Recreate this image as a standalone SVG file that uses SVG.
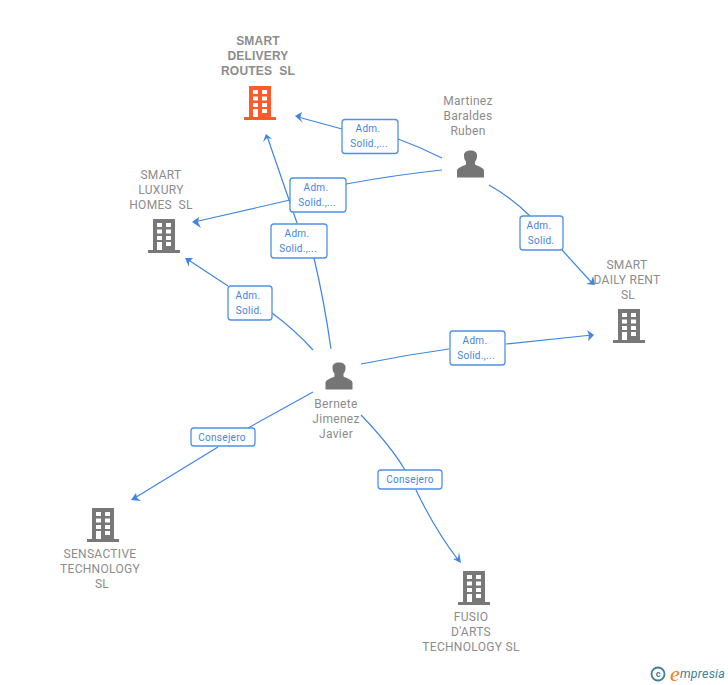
<svg xmlns="http://www.w3.org/2000/svg" width="728" height="685" viewBox="0 0 728 685">
<style>
text{font-family:"Roboto","Liberation Sans",Arial,sans-serif;white-space:pre}
.n{font-size:12px;fill:#8c8c8c;text-anchor:middle;letter-spacing:.3px}
.b{font-weight:bold;font-family:"Liberation Sans",Arial,sans-serif;letter-spacing:.2px}
.l{font-size:10px;fill:#3f86e0;text-anchor:middle;letter-spacing:.3px}
.box{fill:#fff;stroke:#4f90e6;stroke-width:1.3}
.c{fill:none;stroke:#3f86e0;stroke-width:1.2}
.a{fill:#3f86e0}
</style>
<defs>
<path id="bld" fill-rule="evenodd" d="M-11-17H11V14H16V17H-16V14H-11ZM-7-13V-9H-2V-13ZM2-13V-9H7V-13ZM-7-6.500V-2.500H-2V-6.500ZM2-6.500V-2.500H7V-6.500ZM-7 0V4H-2V0ZM2 0V4H7V0ZM-7 6V14H-2V6ZM2 6V10H7V6Z"/>
<path id="per" d="M-13.500 13.500V7C-13.500 3.500-8 2.500-4.500 .5V-2.500C-6.500-4.500-6.500-7-6.500-9C-6.500-11.500-4-13.500 0-13.500C4-13.500 6.500-11.500 6.500-9C6.500-7 6.500-4.500 4.500-2.500V.5C8 2.500 13.500 3.500 13.500 7V13.500Z"/>
</defs>
<rect width="728" height="685" fill="#fff"/>
<g id="connectors">
<path class="c" d="M442 158Q420 147 398 139"/><path class="c" d="M342 129L298 117"/><path class="a" d="M295 116L302 112L300 118L303 123Z"/>
<path class="c" d="M442 170Q395 175 346 184"/><path class="c" d="M290 200L194 222"/><path class="a" d="M192 222L199 217L198 222L201 228Z"/>
<path class="c" d="M331 349Q324 300 314 258"/><path class="c" d="M297 223L267 136"/><path class="a" d="M266 134L272 139L267 138L263 142Z"/>
<path class="c" d="M313 350Q295 330 272 313"/><path class="c" d="M228 286L187 259"/><path class="a" d="M185 258L193 258L189 262L189 267Z"/>
<path class="c" d="M489 185Q512 198 530 216"/><path class="c" d="M562 250L593 284"/><path class="a" d="M595 285L586 284L591 282L593 276Z"/>
<path class="c" d="M361 364Q405 355 449 349"/><path class="c" d="M506 344L592 335"/><path class="a" d="M594 335L587 330L589 335L588 341Z"/>
<path class="c" d="M313 392L248 428"/><path class="c" d="M218 447L133 499"/><path class="a" d="M131 500L136 493L137 498L141 501Z"/>
<path class="c" d="M361 415Q390 445 405 470"/><path class="c" d="M416 490Q435 530 459 561"/><path class="a" d="M461 563L453 559L458 558L459 552Z"/>
</g>
<g id="smart-delivery"><text class="n b" x="258" y="45">SMART</text><text class="n b" x="258" y="60">DELIVERY</text><text class="n b" x="258" y="75">ROUTES  SL</text><use href="#bld" x="260" y="103" fill="#ff5a2c"/></g>
<g id="martinez"><text class="n" x="468" y="105">Martinez</text><text class="n" x="468" y="120">Baraldes</text><text class="n" x="468" y="135">Ruben</text><use href="#per" x="470.500" y="164" fill="#757575"/></g>
<g id="smart-luxury"><text class="n" x="161" y="179">SMART</text><text class="n" x="161" y="194">LUXURY</text><text class="n" x="161" y="209">HOMES  SL</text><use href="#bld" x="164" y="236" fill="#787878"/></g>
<g id="smart-daily"><text class="n" x="627" y="269">SMART</text><text class="n" x="627" y="284">DAILY RENT</text><text class="n" x="628" y="299">SL</text><use href="#bld" x="629" y="326" fill="#787878"/></g>
<g id="bernete"><use href="#per" x="339" y="376" fill="#757575"/><text class="n" x="336" y="408">Bernete</text><text class="n" x="336" y="423">Jimenez</text><text class="n" x="336" y="438">Javier</text></g>
<g id="sensactive"><use href="#bld" x="103" y="525" fill="#787878"/><text class="n" x="100" y="558">SENSACTIVE</text><text class="n" x="100" y="573">TECHNOLOGY</text><text class="n" x="102" y="588">SL</text></g>
<g id="fusio"><use href="#bld" x="474" y="588" fill="#787878"/><text class="n" x="471" y="621">FUSIO</text><text class="n" x="471" y="636">D'ARTS</text><text class="n" x="471" y="651">TECHNOLOGY SL</text></g>
<g id="label-1"><rect class="box" x="342" y="119.500" width="56" height="34" rx="3"/><text class="l" x="368" y="132">Adm.</text><text class="l" x="369" y="147">Solid.,...</text></g>
<g id="label-2"><rect class="box" x="290" y="178" width="56" height="34" rx="3"/><text class="l" x="316" y="191">Adm.</text><text class="l" x="317" y="206">Solid.,...</text></g>
<g id="label-3"><rect class="box" x="271" y="224" width="56" height="34" rx="3"/><text class="l" x="297" y="237">Adm.</text><text class="l" x="298" y="252">Solid.,...</text></g>
<g id="label-4"><rect class="box" x="228" y="286" width="44" height="34" rx="3"/><text class="l" x="248" y="299">Adm.</text><text class="l" x="249" y="314">Solid.</text></g>
<g id="label-5"><rect class="box" x="520" y="216" width="43" height="34" rx="3"/><text class="l" x="539" y="229">Adm.</text><text class="l" x="541" y="244">Solid.</text></g>
<g id="label-6"><rect class="box" x="450" y="331" width="55" height="34" rx="3"/><text class="l" x="475" y="344">Adm.</text><text class="l" x="476" y="359">Solid.,...</text></g>
<g id="label-7"><rect class="box" x="191" y="428" width="64" height="18" rx="3"/><text class="l" x="222" y="441">Consejero</text></g>
<g id="label-8"><rect class="box" x="378" y="470" width="64" height="19" rx="3"/><text class="l" x="410" y="483">Consejero</text></g>
<g id="logo"><circle cx="658" cy="674" r="6.500" fill="none" stroke="#3f7f95" stroke-width="1.800"/><text x="658" y="677" font-size="9" fill="#3f7f95" text-anchor="middle" font-weight="bold">c</text><text x="670" y="681" font-size="22" font-style="italic" fill="#f08010" style="font-family:'Liberation Serif',serif">e</text><text x="680" y="678" font-size="12.500" font-style="italic" fill="#3f7f95" letter-spacing=".2">mpresia</text></g>
</svg>
